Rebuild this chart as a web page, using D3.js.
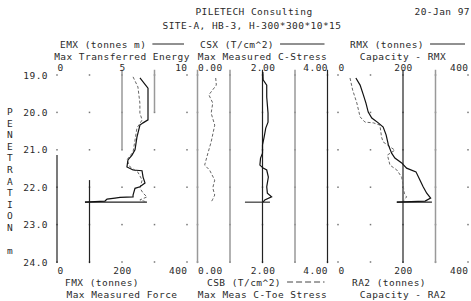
<!DOCTYPE html>
<html>
<head>
<meta charset="utf-8">
<script src="https://cdn.jsdelivr.net/npm/d3@7"></script>
<style>
  body { margin: 0; background: #fff; }
  text { font-family: "DejaVu Sans Mono", monospace; font-size: 9.5px; letter-spacing: 0.45px; fill: #2a2a2a; }
</style>
</head>
<body>
<div id="chart"></div>
<script>
var w = 471;
var h = 301;

// depth axis
var depthTicks = [19, 20, 21, 22, 23, 24];
var yLetters = ["P","E","N","E","T","R","A","T","I","O","N","","m"];

// top / bottom tick labels of each panel
var emxTicks = [0, 5, 10];
var fmxTicks = [0, 200, 400];
var csxTicks = [0, 2, 4];
var csbTicks = [0, 2, 4];
var rmxTicks = [0, 200, 400];
var ra2Ticks = [0, 200, 400];

// traces: [depth m, value]
var emx = [[19.08,6.38],[19.35,7.0],[20.2,7.0],[20.28,6.62],[20.34,6.38],[20.66,6.15],[21.0,6.0],[21.14,5.77],
  [21.27,5.46],[21.46,5.38],[21.54,5.85],[21.56,6.54],[21.73,6.62],[21.89,6.77],[21.99,6.38],[22.03,6.0],
  [22.21,5.85],[22.26,5.85],[22.27,4.85],[22.29,4.46],[22.32,3.85],[22.37,3.69],[22.40,2.15]];
var fmx = [[19.05,234],[19.32,249],[19.75,255],[20.02,255],[20.2,262],[20.42,246],[20.74,240],[21.06,234],
  [21.27,215],[21.46,225],[21.6,249],[21.81,262],[22.02,255],[22.16,265],[22.26,277],[22.34,255],[22.40,277]];
var csx = [[18.92,2.01],[19.13,2.02],[19.27,2.13],[19.59,2.13],[20.02,2.17],[20.26,2.17],[20.42,2.10],[20.66,2.05],
  [20.87,2.00],[21.09,2.00],[21.22,1.94],[21.41,1.92],[21.49,2.02],[21.54,2.13],[21.73,2.18],[21.99,2.13],
  [22.16,2.15],[22.26,2.28],[22.34,2.07],[22.40,2.02]];
var csb = [[19.08,0.56],[19.27,0.58],[19.53,0.35],[19.75,0.47],[20.02,0.42],[20.34,0.53],[20.79,0.42],[21.09,0.32],
  [21.41,0.22],[21.54,0.37],[21.81,0.53],[22.02,0.47],[22.21,0.53],[22.32,0.47],[22.40,0.42]];
var rmx = [[19.08,55],[19.27,68],[19.53,78],[19.75,86],[19.99,93],[20.15,104],[20.28,124],[20.39,139],[20.6,148],
  [20.87,155],[21.09,165],[21.22,175],[21.35,196],[21.49,211],[21.59,240],[21.81,252],[21.99,262],[22.16,273],
  [22.29,285],[22.37,268],[22.40,181]];
var ra2 = [[19.08,37],[19.4,45],[19.75,58],[20.12,68],[20.26,83],[20.28,109],[20.34,129],[20.66,134],[20.79,139],
  [20.95,165],[21.01,175],[21.14,152],[21.41,160],[21.54,181],[21.73,196],[21.99,201],[22.16,204],[22.26,211],[22.37,201]];

// reference verticals per panel (top-axis units): [value, depthFrom, depthTo, dark?]
var emxRefs = [[5, 18.86, 21.0, 0], [7.5, 18.86, 20.0, 0], [0, 21.14, 24.03, 1], [2.5, 21.81, 24.03, 1]];
var csxRefs = [[0, 18.86, 24.03, 0], [1, 18.86, 24.03, 0], [2, 18.86, 24.03, 1], [3, 18.86, 24.03, 0], [4, 18.86, 24.03, 1]];
var rmxRefs = [[200, 18.86, 24.03, 1], [300, 18.86, 24.03, 0]];
// final set marks: [depth, from, to] in top-axis units
var emxSet = [22.40, 2.15, 6.92];
var csxSet = [22.40, 1.46, 2.23];
var rmxSet = [22.40, 181, 289];

var svg = d3.select("#chart").append("svg")
  .attr("width", w)
  .attr("height", h);

var yScale = d3.scaleLinear().domain([19, 24]).range([75, 262]);

var panels = [
  { x0: 57, x1: 187, top: [0, 10], bot: [0, 400], topTicks: emxTicks, botTicks: fmxTicks, tf: d3.format("d"), bf: d3.format("d"),
    solid: emx, dashed: fmx, refs: emxRefs, set: emxSet,
    head: "EMX (tonnes m)", headX: 60, sub: "Max Transferred Energy",
    foot: "FMX (tonnes)", footX: 65, foot2: "Max Measured Force", footDash: false },
  { x0: 197.5, x1: 327.5, top: [0, 4], bot: [0, 4], topTicks: csxTicks, botTicks: csbTicks, tf: d3.format(".2f"), bf: d3.format(".2f"),
    solid: csx, dashed: csb, refs: csxRefs, set: csxSet,
    head: "CSX (T/cm^2)", headX: 200, sub: "Max Measured C-Stress",
    foot: "CSB (T/cm^2)", footX: 207, foot2: "Max Meas C-Toe Stress", footDash: true },
  { x0: 338, x1: 468, top: [0, 400], bot: [0, 400], topTicks: rmxTicks, botTicks: ra2Ticks, tf: d3.format("d"), bf: d3.format("d"),
    solid: rmx, dashed: ra2, refs: rmxRefs, set: rmxSet,
    head: "RMX (tonnes)", headX: 350, sub: "Capacity - RMX",
    foot: "RA2 (tonnes)", footX: 352, foot2: "Capacity - RA2", footDash: false }
];

// titles
svg.append("text").attr("x", 254).attr("y", 14.5).attr("text-anchor", "middle").text("PILETECH Consulting");
svg.append("text").attr("x", 470).attr("y", 14.5).attr("text-anchor", "end").text("20-Jan 97");
svg.append("text").attr("x", 252).attr("y", 28.5).attr("text-anchor", "middle").text("SITE-A, HB-3, H-300*300*10*15");

// depth axis
var yAxis = d3.axisLeft(yScale).tickValues(depthTicks).tickFormat(d3.format(".1f")).tickSize(0).tickPadding(3);
var gy = svg.append("g").attr("transform", "translate(51,0)").call(yAxis);
gy.select(".domain").remove();
gy.selectAll("text").style("font-family", null).style("font-size", null).attr("fill", null);

svg.selectAll(".ylab")
  .data(yLetters)
  .join("text")
  .attr("class", "ylab")
  .attr("x", 10)
  .attr("y", function(d, i) { return 115 + i * 11.6; })
  .attr("text-anchor", "middle")
  .text(function(d) { return d; });

panels.forEach(function(p) {
  var xt = d3.scaleLinear().domain(p.top).range([p.x0, p.x1]);
  var xb = d3.scaleLinear().domain(p.bot).range([p.x0, p.x1]);

  // grid dots
  var fr = [0, 0.25, 0.5, 0.75, 1];
  depthTicks.forEach(function(d) {
    fr.forEach(function(f) {
      var v = p.top[0] + f * (p.top[1] - p.top[0]);
      svg.append("rect")
        .attr("x", xt(v) - 0.75).attr("y", yScale(d) - 0.75)
        .attr("width", 1.5).attr("height", 1.5)
        .attr("fill", "#777");
    });
  });

  // reference verticals
  svg.selectAll(null)
    .data(p.refs)
    .join("line")
    .attr("x1", function(d) { return xt(d[0]); })
    .attr("x2", function(d) { return xt(d[0]); })
    .attr("y1", function(d) { return yScale(d[1]); })
    .attr("y2", function(d) { return yScale(d[2]); })
    .attr("stroke", function(d) { return d[3] ? "#222" : "#999"; })
    .attr("stroke-width", function(d) { return d[3] ? 1.2 : 1.5; });

  // final set mark
  svg.append("line")
    .attr("x1", xt(p.set[1])).attr("x2", xt(p.set[2]))
    .attr("y1", yScale(p.set[0])).attr("y2", yScale(p.set[0]))
    .attr("stroke", "#222").attr("stroke-width", 1.1);

  // traces
  svg.append("path")
    .datum(p.dashed)
    .attr("fill", "none")
    .attr("stroke", "#666")
    .attr("stroke-width", 1)
    .attr("stroke-dasharray", "3,2")
    .attr("d", d3.line().x(function(d) { return xb(d[1]); }).y(function(d) { return yScale(d[0]); }));

  svg.append("path")
    .datum(p.solid)
    .attr("fill", "none")
    .attr("stroke", "#111")
    .attr("stroke-width", 1.2)
    .attr("d", d3.line().x(function(d) { return xt(d[1]); }).y(function(d) { return yScale(d[0]); }));

  // tick labels: first left, middle centred, last right
  var topAxis = d3.axisTop(xt).tickValues(p.topTicks).tickFormat(p.tf).tickSize(0).tickPadding(3);
  var gt = svg.append("g").attr("transform", "translate(0,74)").call(topAxis);
  gt.select(".domain").remove();
  var botAxis = d3.axisBottom(xb).tickValues(p.botTicks).tickFormat(p.bf).tickSize(0).tickPadding(3);
  var gb = svg.append("g").attr("transform", "translate(0,264)").call(botAxis);
  gb.select(".domain").remove();
  [gt, gb].forEach(function(g) {
    g.selectAll("text")
      .style("font-family", null).style("font-size", null).attr("fill", null)
      .attr("text-anchor", function(d, i) { return i == 0 ? "start" : (i == 2 ? "end" : "middle"); });
  });

  // header / footer labels
  var ht = svg.append("text").attr("x", p.headX).attr("y", 47.5).text(p.head);
  var hw = ht.node().getComputedTextLength();
  svg.append("line")
    .attr("x1", p.headX + hw + 6).attr("x2", p.x1 - 3)
    .attr("y1", 44).attr("y2", 44)
    .attr("stroke", "#222").attr("stroke-width", 1);
  svg.append("text").attr("x", (p.x0 + p.x1) / 2).attr("y", 59.5).attr("text-anchor", "middle").text(p.sub);

  var ft = svg.append("text").attr("x", p.footX).attr("y", 285.5).text(p.foot);
  if (p.footDash) {
    var fw = ft.node().getComputedTextLength();
    svg.append("line")
      .attr("x1", p.footX + fw + 6).attr("x2", p.x1 - 3)
      .attr("y1", 282).attr("y2", 282)
      .attr("stroke", "#444").attr("stroke-width", 1)
      .attr("stroke-dasharray", "6,3");
  }
  svg.append("text").attr("x", (p.x0 + p.x1) / 2).attr("y", 297.5).attr("text-anchor", "middle").text(p.foot2);
});
</script>
</body>
</html>
